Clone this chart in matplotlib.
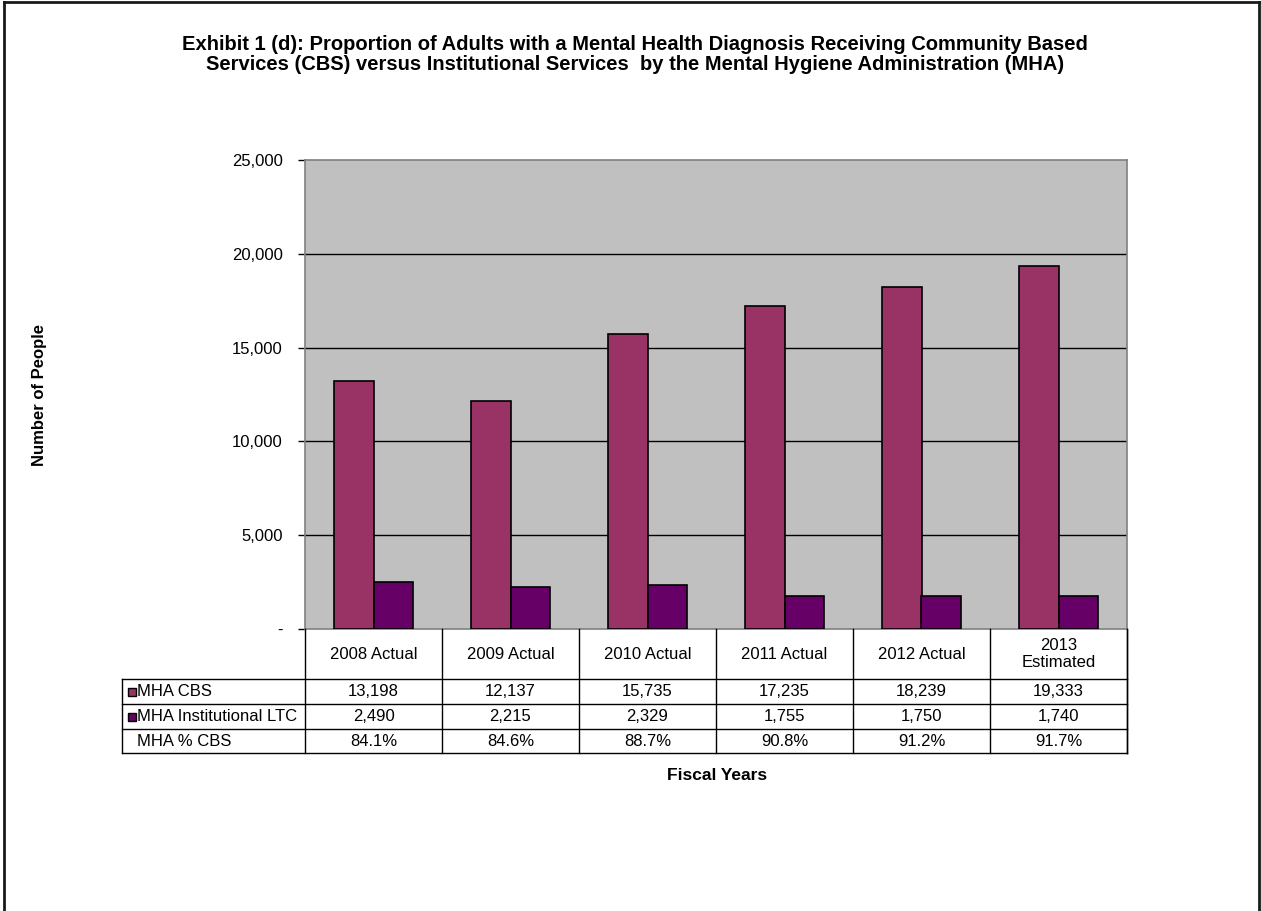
import numpy as np
import matplotlib
matplotlib.use('Agg')
import matplotlib.pyplot as plt
from matplotlib.patches import Rectangle
from matplotlib.lines import Line2D

plt.rcParams['font.family'] = ['Liberation Sans', 'DejaVu Sans']

years = ['2008 Actual', '2009 Actual', '2010 Actual', '2011 Actual',
         '2012 Actual', '2013\nEstimated']
cbs = [13198, 12137, 15735, 17235, 18239, 19333]
ltc = [2490, 2215, 2329, 1755, 1750, 1740]
pct_cbs = [84.1, 84.6, 88.7, 90.8, 91.2, 91.7]
series_names = ['MHA CBS', 'MHA Institutional LTC', 'MHA % CBS']
c_cbs = '#993366'
c_ltc = '#660066'

W, H = 1261, 911
fig = plt.figure(figsize=(W / 100, H / 100), dpi=100)


def box(l, t, r, b):
    return [l / W, 1 - b / H, (r - l) / W, (b - t) / H]


# chart area
ax = fig.add_axes(box(305, 160, 1127, 629))
ax.set_facecolor('#c0c0c0')
x = np.arange(len(years))
bw = 0.29
ax.bar(x - bw / 2, cbs, bw, color=c_cbs, edgecolor='black', lw=1.2, zorder=3)
ax.bar(x + bw / 2, ltc, bw, color=c_ltc, edgecolor='black', lw=1.2, zorder=3)
ax.set_xlim(-0.5, len(years) - 0.5)
ax.set_ylim(0, 25000)
yt = np.arange(0, 25001, 5000)
ax.set_yticks(yt)
ax.set_yticklabels(['-' if v == 0 else f'{v:,}' for v in yt], fontsize=12)
ax.tick_params(axis='y', length=5, width=1, pad=11)
ax.set_xticks([])
for v in yt[1:-1]:
    ax.axhline(v, color='black', lw=1, zorder=1)
for s in ['top', 'right', 'left', 'bottom']:
    ax.spines[s].set_color('#808080')
    ax.spines[s].set_linewidth(1.2)

# data table under the chart
tl, tt, tr, tb = 122, 629, 1127, 753
tax = fig.add_axes(box(tl, tt, tr, tb))
tax.set_axis_off()
unit = (1127 - 305) / len(years)
x0 = -0.5 - (305 - tl) / unit
x1 = len(years) - 0.5
tax.set_xlim(x0, x1)
tax.set_ylim(tb, tt)
row_edges = [679, 704, 729, 753]
lc = '#000000'


def tline(xs, ys):
    tax.add_line(Line2D(xs, ys, color=lc, lw=1, clip_on=False))


for b in np.arange(-0.5, len(years), 1.0):
    tline([b, b], [tt, tb])
tline([x1, x1], [tt, tb])
tline([x0, x0], [row_edges[0], tb])
for r in row_edges:
    tline([x0, x1], [r, r])

for i, lab in enumerate(years):
    tax.text(i, (tt + row_edges[0]) / 2, lab, ha='center', va='center',
             fontsize=12, linespacing=1.15)

rows = [[f'{v:,}' for v in cbs], [f'{v:,}' for v in ltc],
        [f'{v:.1f}%' for v in pct_cbs]]
swatches = [c_cbs, c_ltc, None]
px = 1 / unit
for j, (name, vals, sw) in enumerate(zip(series_names, rows, swatches)):
    yc = (row_edges[j] + row_edges[j + 1]) / 2
    if sw is not None:
        tax.add_patch(Rectangle((x0 + 6 * px, yc - 4), 8 * px, 8,
                                facecolor=sw, edgecolor='black', lw=1))
    tax.text(x0 + 15 * px, yc, name, ha='left', va='center', fontsize=12)
    for i, v in enumerate(vals):
        tax.text(i, yc, v, ha='center', va='center', fontsize=12)

# titles
fig.text(635 / W, 1 - 44 / H,
         'Exhibit 1 (d): Proportion of Adults with a Mental Health Diagnosis '
         'Receiving Community Based', ha='center', va='center',
         fontsize=14.5, fontweight='bold')
fig.text(635 / W, 1 - 64 / H,
         'Services (CBS) versus Institutional Services  by the Mental Hygiene '
         'Administration (MHA)', ha='center', va='center',
         fontsize=14.5, fontweight='bold')
fig.text(717 / W, 1 - 776 / H, 'Fiscal Years', ha='center', va='center',
         fontsize=12.5, fontweight='bold')
fig.text(40 / W, 1 - 395 / H, 'Number of People', ha='center', va='center',
         rotation=90, fontsize=12, fontweight='bold')

# outer frame
fc = '#1a1a1a'
fig.add_artist(Line2D([4 / W, 4 / W], [0, 1 - 2 / H], color=fc, lw=2))
fig.add_artist(Line2D([1259 / W, 1259 / W], [0, 1 - 2 / H], color=fc, lw=2))
fig.add_artist(Line2D([4 / W, 1259 / W], [1 - 2 / H, 1 - 2 / H], color=fc, lw=2))

fig.savefig('out.png', dpi=100)
